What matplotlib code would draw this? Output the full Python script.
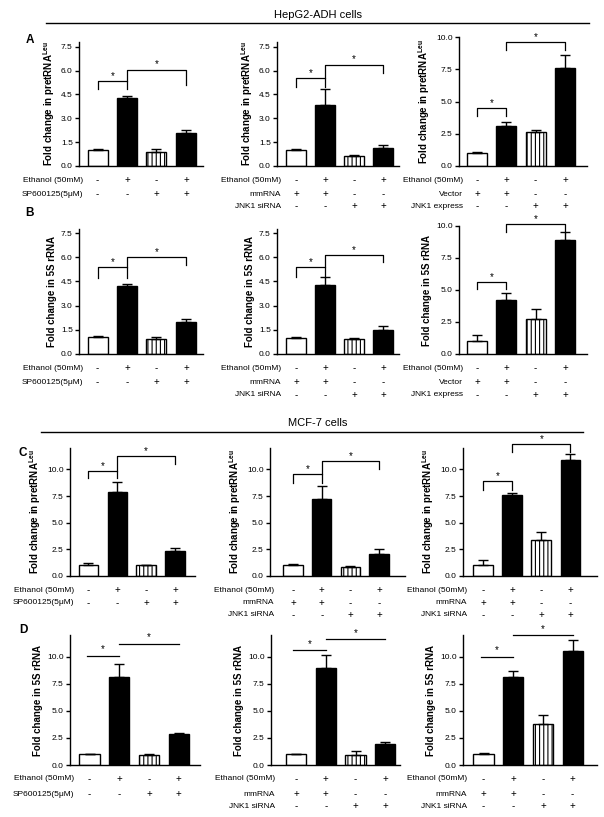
import numpy as np
import matplotlib.pyplot as plt
from matplotlib.transforms import blended_transform_factory

plt.rcParams['font.family'] = ['Liberation Sans', 'DejaVu Sans']
plt.rcParams['mathtext.fontset'] = 'custom'
plt.rcParams['mathtext.bf'] = 'Liberation Sans:bold'
plt.rcParams['mathtext.rm'] = 'Liberation Sans'
plt.rcParams['hatch.linewidth'] = 0.8

# bars: control, ethanol, inhibitor/siRNA/expression, ethanol + inhibitor
a_means = [[1.0, 4.25, 0.85, 2.1], [1.0, 3.85, 0.65, 1.15], [1.0, 3.1, 2.6, 7.6]]
a_errs = [[0.08, 0.15, 0.25, 0.15], [0.05, 1.0, 0.05, 0.15], [0.1, 0.3, 0.2, 1.0]]
b_means = [[1.05, 4.2, 0.9, 2.0], [1.0, 4.3, 0.95, 1.5], [1.0, 4.2, 2.75, 8.9]]
b_errs = [[0.07, 0.12, 0.15, 0.15], [0.07, 0.45, 0.05, 0.25], [0.5, 0.6, 0.8, 0.6]]
c_means = [[1.0, 7.9, 1.0, 2.3], [1.0, 7.2, 0.85, 2.05], [1.0, 7.6, 3.4, 10.9]]
c_errs = [[0.25, 0.95, 0.05, 0.35], [0.1, 1.2, 0.1, 0.5], [0.5, 0.2, 0.75, 0.55]]
d_means = [[1.0, 8.1, 0.9, 2.85], [1.0, 9.0, 0.9, 1.9], [1.0, 8.1, 3.75, 10.5]]
d_errs = [[0.02, 1.2, 0.1, 0.08], [0.02, 1.2, 0.35, 0.2], [0.1, 0.6, 0.85, 1.05]]

# significance brackets: (level, left foot, right foot) for bars 0-1 and bars 1-3
a_brackets = [[(5.33, 4.84, 4.84), (6.07, 5.33, 5.1)],
              [(5.56, 5.0, 5.0), (6.38, 5.56, 5.88)],
              [(4.5, 3.9, 3.9), (9.6, 9.0, 9.0)]]
b_brackets = [[(5.38, 4.7, 4.7), (6.04, 5.38, 5.5)],
              [(5.38, 4.8, 4.8), (6.15, 5.38, 5.73)],
              [(5.65, 5.05, 5.05), (10.15, 9.56, 9.56)]]
c_brackets = [[(9.84, 9.2, 9.2), (11.25, 9.84, 10.5)],
              [(9.53, 8.75, 8.75), (10.8, 9.53, 10.06)],
              [(8.9, 8.1, 8.1), (12.4, 11.6, 11.6)]]
d_lines = [[10.1, 11.2], [10.6, 11.6], [10.0, 12.0]]

sp_rows = ['Ethanol (50mM)', 'SP600125(5μM)']
sp_signs = [['-', '+', '-', '+'], ['-', '-', '+', '+']]
sirna_rows = ['Ethanol (50mM)', 'mmRNA', 'JNK1 siRNA']
express_rows = ['Ethanol (50mM)', 'Vector', 'JNK1 express']
three_signs = [['-', '+', '-', '+'], ['+', '+', '-', '-'], ['-', '-', '+', '+']]

pre_label = r'Fold change in pretRNA$^{\mathbf{Leu}}$'
s5_label = 'Fold change in 5S rRNA'

W, H = 604, 817
fig = plt.figure(figsize=(W / 100, H / 100), dpi=100)


def px_axes(left, right, bottom, top):
    return fig.add_axes([left / W, 1 - bottom / H, (right - left) / W, (bottom - top) / H])


def draw_panel(rect, xlim, ymax, step, means, errs, ylabel, rows, signs, row_y,
               brackets=None, lines=None):
    ax = px_axes(*rect)
    x = np.arange(4)
    bars = ax.bar(x, means, width=0.68, color=['white', 'black', 'white', 'black'],
                  edgecolor='black', linewidth=1)
    bars[2].set_hatch('||||')
    ax.errorbar(x, means, yerr=[np.zeros(4), errs], fmt='none', ecolor='black',
                elinewidth=1, capsize=3.5, capthick=1)
    ax.set_xlim(*xlim)
    ax.set_ylim(0, ymax)
    ticks = np.arange(0, min(ymax, 10) + 0.01, step)
    ax.set_yticks(ticks)
    ax.set_yticklabels(['%.1f' % t for t in ticks])
    ax.set_xticks([])
    for s in ['top', 'right']:
        ax.spines[s].set_visible(False)
    for s in ['left', 'bottom']:
        ax.spines[s].set_linewidth(1)
    ax.tick_params(axis='y', direction='out', length=3, width=1, labelsize=6, pad=1.5)
    ax.set_ylabel(ylabel, fontsize=7, fontweight='bold', labelpad=3)

    if brackets is not None:
        for (x0, x1), (lvl, f0, f1) in zip([(0, 1), (1, 3)], brackets):
            ax.plot([x0, x0, x1, x1], [f0, lvl, lvl, f1], color='black', lw=0.9,
                    clip_on=False)
            ax.annotate('*', ((x0 + x1) / 2, lvl), xytext=(0, 0),
                        textcoords='offset points', ha='center', va='bottom',
                        fontsize=7, annotation_clip=False)
    if lines is not None:
        for (x0, x1), lvl in zip([(-0.1, 1), (1, 3)], lines):
            ax.plot([x0, x1], [lvl, lvl], color='black', lw=0.9, clip_on=False)
            ax.annotate('*', ((x0 + x1) / 2, lvl), xytext=(0, 1),
                        textcoords='offset points', ha='center', va='bottom',
                        fontsize=7, annotation_clip=False)

    tr = blended_transform_factory(ax.transData, fig.transFigure)
    for label, row, yp in zip(rows, signs, row_y):
        fy = 1 - yp / H
        fig.text((rect[0] + 4) / W, fy, label, ha='right', va='center', fontsize=6)
        for xi, sgn in zip(x, row):
            ax.text(xi, fy, sgn, transform=tr, ha='center', va='center', fontsize=7)
    return ax


# row A
draw_panel((79, 203, 166, 42), (-0.63, 3.58), 7.8, 1.5, a_means[0], a_errs[0], pre_label,
           sp_rows, sp_signs, [180, 194], brackets=a_brackets[0])
draw_panel((277, 399, 166, 42), (-0.66, 3.55), 7.8, 1.5, a_means[1], a_errs[1], pre_label,
           sirna_rows, three_signs, [180, 194, 206], brackets=a_brackets[1])
draw_panel((459, 587, 166, 37), (-0.61, 3.75), 10.0, 2.5, a_means[2], a_errs[2], pre_label,
           express_rows, three_signs, [180, 194, 206], brackets=a_brackets[2])
# row B
draw_panel((79, 203, 354, 229), (-0.63, 3.58), 7.75, 1.5, b_means[0], b_errs[0], s5_label,
           sp_rows, sp_signs, [368, 382], brackets=b_brackets[0])
draw_panel((277, 399, 354, 229), (-0.66, 3.55), 7.75, 1.5, b_means[1], b_errs[1], s5_label,
           sirna_rows, three_signs, [368, 382, 395], brackets=b_brackets[1])
draw_panel((459, 587, 354, 226), (-0.61, 3.75), 10.0, 2.5, b_means[2], b_errs[2], s5_label,
           express_rows, three_signs, [368, 382, 395], brackets=b_brackets[2])
# row C
draw_panel((70, 195, 576, 448), (-0.64, 3.69), 12, 2.5, c_means[0], c_errs[0], pre_label,
           sp_rows, sp_signs, [590, 603], brackets=c_brackets[0])
draw_panel((270, 405, 576, 448), (-0.81, 3.91), 12, 2.5, c_means[1], c_errs[1], pre_label,
           sirna_rows, three_signs, [590, 603, 615], brackets=c_brackets[1])
draw_panel((463, 597, 576, 448), (-0.69, 3.91), 12, 2.5, c_means[2], c_errs[2], pre_label,
           sirna_rows, three_signs, [590, 603, 615], brackets=c_brackets[2])
# row D
draw_panel((70, 200, 765, 635), (-0.66, 3.72), 12, 2.5, d_means[0], d_errs[0], s5_label,
           sp_rows, sp_signs, [779, 794], lines=d_lines[0])
draw_panel((271, 400, 765, 635), (-0.85, 3.5), 12, 2.5, d_means[1], d_errs[1], s5_label,
           sirna_rows, three_signs, [779, 794, 806], lines=d_lines[1])
draw_panel((463, 597, 765, 635), (-0.69, 3.82), 12, 2.5, d_means[2], d_errs[2], s5_label,
           sirna_rows, three_signs, [779, 794, 806], lines=d_lines[2])

# group headers and panel letters
fig.text(318 / W, 1 - 15 / H, 'HepG2-ADH cells', ha='center', va='center', fontsize=8)
fig.add_artist(plt.Line2D([46 / W, 589 / W], [1 - 23 / H, 1 - 23 / H], color='black', lw=1))
fig.text(318 / W, 1 - 423 / H, 'MCF-7 cells', ha='center', va='center', fontsize=8)
fig.add_artist(plt.Line2D([41 / W, 583 / W], [1 - 432 / H, 1 - 432 / H], color='black', lw=1))
for letter, (lx, ly) in zip('ABCD', [(30, 40), (29, 213), (23, 453), (23, 630)]):
    fig.text(lx / W, 1 - ly / H, letter, ha='center', va='center', fontsize=8.5,
             fontweight='bold')

fig.savefig('out.png', dpi=100)
